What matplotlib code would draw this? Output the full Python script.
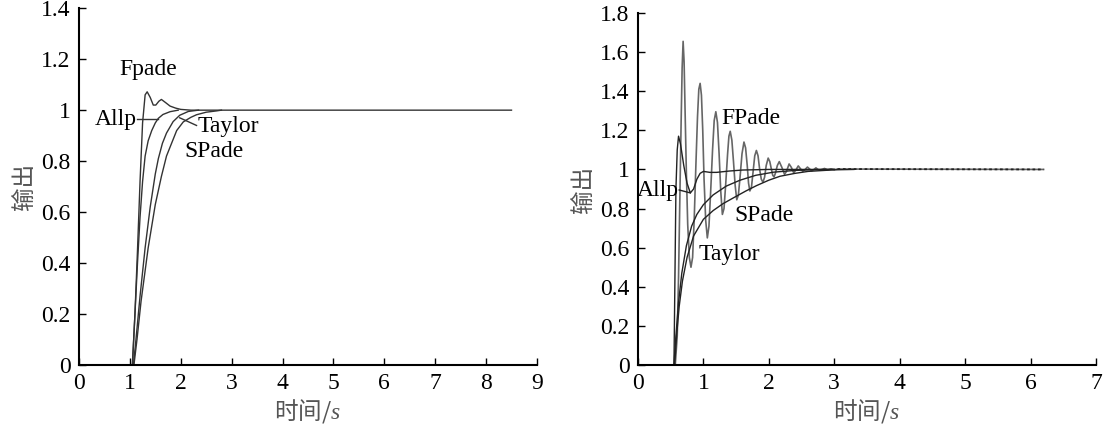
import matplotlib.pyplot as plt

plt.rcParams['font.family'] = ['Liberation Serif', 'DejaVu Serif']
plt.rcParams['mathtext.fontset'] = 'custom'
plt.rcParams['mathtext.it'] = 'Liberation Serif:italic'
plt.rcParams['mathtext.rm'] = 'Liberation Serif'

cjk = ['Noto Sans CJK SC', 'DejaVu Sans']

# left panel: step responses
fpade_t = [0, 1.05, 1.1, 1.15, 1.2, 1.25, 1.3, 1.34, 1.4, 1.46, 1.51, 1.57, 1.62, 1.7, 1.79, 1.9, 2.0, 2.2, 8.5]
fpade_y = [0, 0, 0.2, 0.45, 0.72, 0.95, 1.06, 1.072, 1.05, 1.02, 1.02, 1.035, 1.042, 1.03, 1.016, 1.008, 1.003, 1.0, 1.0]

allp_t = [1.05, 1.1, 1.15, 1.2, 1.25, 1.3, 1.36, 1.43, 1.5, 1.56, 1.65, 1.79, 1.95]
allp_y = [0, 0.2, 0.4, 0.58, 0.72, 0.82, 0.88, 0.92, 0.95, 0.968, 0.983, 0.994, 1.0]

taylor_t = [1.07, 1.12, 1.2, 1.3, 1.4, 1.5, 1.56, 1.64, 1.72, 1.85, 1.98, 2.15, 2.35]
taylor_y = [0, 0.1, 0.27, 0.46, 0.62, 0.75, 0.81, 0.87, 0.91, 0.955, 0.98, 0.995, 1.0]

spade_t = [1.08, 1.14, 1.22, 1.36, 1.5, 1.62, 1.72, 1.8, 1.92, 2.05, 2.2, 2.31, 2.5, 2.7, 2.8]
spade_y = [0, 0.1, 0.25, 0.46, 0.63, 0.74, 0.82, 0.86, 0.92, 0.954, 0.972, 0.982, 0.992, 0.997, 1.0]

# right panel
r_fpade_t = [0, 0.57, 0.60, 0.62, 0.64, 0.66, 0.675, 0.69, 0.705, 0.72, 0.74, 0.76, 0.785, 0.81,
             0.835, 0.86, 0.885, 0.91, 0.93, 0.95, 0.97, 0.99, 1.01, 1.035, 1.06, 1.085, 1.11,
             1.14, 1.165, 1.19, 1.215, 1.24, 1.265, 1.29, 1.315, 1.34, 1.37, 1.39, 1.41, 1.435,
             1.46, 1.485, 1.51, 1.535, 1.56, 1.59, 1.62, 1.645, 1.67, 1.69, 1.71, 1.735, 1.76,
             1.785, 1.81, 1.835, 1.86, 1.885, 1.91, 1.935, 1.96, 1.99, 2.015, 2.04, 2.06, 2.08,
             2.10, 2.13, 2.16, 2.2, 2.24, 2.27, 2.31, 2.345, 2.38, 2.415, 2.45, 2.485, 2.52,
             2.555, 2.59, 2.625, 2.655, 2.69, 2.72, 2.75, 2.78, 2.815, 2.85, 2.9, 2.95, 3.0,
             3.05, 6.2]
r_fpade_y = [0, 0, 0.15, 0.45, 0.85, 1.25, 1.52, 1.655, 1.55, 1.3, 0.98, 0.72, 0.55, 0.5,
             0.55, 0.75, 1.02, 1.27, 1.41, 1.44, 1.38, 1.2, 0.95, 0.74, 0.65, 0.71, 0.88,
             1.1, 1.25, 1.295, 1.24, 1.08, 0.89, 0.77, 0.8, 0.92, 1.08, 1.17, 1.195, 1.15,
             1.04, 0.92, 0.845, 0.87, 0.96, 1.08, 1.14, 1.11, 1.02, 0.93, 0.89, 0.91, 0.99,
             1.07, 1.097, 1.07, 1.0, 0.95, 0.935, 0.96, 1.02, 1.058, 1.04, 1.0, 0.97, 0.962,
             0.98, 1.02, 1.04, 1.01, 0.975, 0.99, 1.028, 1.01, 0.983, 0.998, 1.018, 1.003, 0.99,
             1.0, 1.012, 1.002, 0.993, 1.0, 1.008, 1.0, 0.996, 1.0, 1.005, 0.998, 1.003, 0.999,
             1.002, 1.0]

r_allp_t = [0.55, 0.56, 0.57, 0.58, 0.6, 0.62, 0.65, 0.7, 0.75, 0.8, 0.85, 0.9, 0.95, 1.0, 1.1, 1.2, 1.4, 1.6, 2.0, 3.0]
r_allp_y = [0, 0.3, 0.6, 0.9, 1.1, 1.17, 1.13, 1.02, 0.93, 0.88, 0.9, 0.95, 0.98, 0.99, 0.985, 0.985, 0.992, 0.997, 1.0, 1.0]

r_taylor_t = [0.55, 0.58, 0.62, 0.67, 0.74, 0.82, 0.9, 1.0, 1.15, 1.35, 1.56, 1.8, 2.07, 2.4, 2.8, 3.0]
r_taylor_y = [0, 0.15, 0.32, 0.47, 0.61, 0.71, 0.77, 0.82, 0.87, 0.915, 0.945, 0.97, 0.986, 0.995, 1.0, 1.0]

r_spade_t = [0.56, 0.59, 0.63, 0.68, 0.75, 0.85, 1.0, 1.15, 1.3, 1.46, 1.65, 1.81, 2.0, 2.17, 2.4, 2.6, 3.0, 3.3]
r_spade_y = [0, 0.15, 0.3, 0.43, 0.55, 0.66, 0.745, 0.79, 0.825, 0.855, 0.89, 0.917, 0.945, 0.965, 0.98, 0.99, 0.998, 1.0]

fig = plt.figure(figsize=(11.03, 4.32), dpi=100)
ax1 = fig.add_axes([0.0716, 0.155, 0.4152, 0.826])
ax2 = fig.add_axes([0.5784, 0.155, 0.4152, 0.815])

for ax in (ax1, ax2):
    for s in ('top', 'right'):
        ax.spines[s].set_visible(False)
    for s in ('left', 'bottom'):
        ax.spines[s].set_linewidth(1.5)
    ax.tick_params(direction='in', length=5, width=1, labelsize=17, pad=6)
    ax.set_ylabel('输出', family=cjk, fontsize=17, color='#555555', labelpad=4)
    ax.set_xlabel('时间/$s$', family=cjk, fontsize=17, color='#555555', labelpad=2)

ax1.plot(fpade_t, fpade_y, color='#333333', lw=1.0)
ax1.plot(allp_t, allp_y, color='#333333', lw=1.0)
ax1.plot(taylor_t, taylor_y, color='#333333', lw=1.0)
ax1.plot(spade_t, spade_y, color='#333333', lw=1.0)
ax1.set_xlim(0, 9)
ax1.set_ylim(0, 1.4)
ax1.set_xticks(range(10))
ax1.set_yticks([0, 0.2, 0.4, 0.6, 0.8, 1, 1.2, 1.4])
ax1.set_yticklabels(['0', '0.2', '0.4', '0.6', '0.8', '1', '1.2', '1.4'])

ax1.text(1.36, 1.12, 'Fpade', fontsize=17, ha='center', va='bottom')
ax1.text(1.13, 0.965, 'Allp', fontsize=17, ha='right', va='center')
ax1.plot([1.14, 1.56], [0.965, 0.965], color='#333333', lw=1.0)
ax1.text(2.34, 0.935, 'Taylor', fontsize=17, ha='left', va='center')
ax1.plot([2.31, 1.98], [0.94, 0.97], color='#333333', lw=1.0)
ax1.text(2.08, 0.836, 'SPade', fontsize=17, ha='left', va='center')

ax2.plot(r_fpade_t, r_fpade_y, color='#666666', lw=1.2)
# the long tail shows a fine ripple; a dotted overlay stands in for it
ax2.plot(r_fpade_t[-2:], r_fpade_y[-2:], color='#222222', lw=1.3, ls=(0, (1.5, 1.5)))
ax2.plot(r_allp_t, r_allp_y, color='#222222', lw=1.0)
ax2.plot(r_taylor_t, r_taylor_y, color='#222222', lw=1.0)
ax2.plot(r_spade_t, r_spade_y, color='#222222', lw=1.0)
ax2.set_xlim(0, 7)
ax2.set_ylim(0, 1.8)
ax2.set_xticks(range(8))
ax2.set_yticks([0, 0.2, 0.4, 0.6, 0.8, 1, 1.2, 1.4, 1.6, 1.8])
ax2.set_yticklabels(['0', '0.2', '0.4', '0.6', '0.8', '1', '1.2', '1.4', '1.6', '1.8'])

ax2.text(1.28, 1.26, 'FPade', fontsize=17, ha='left', va='center')
ax2.text(0.63, 0.89, 'Allp', fontsize=17, ha='right', va='center')
ax2.plot([0.63, 0.8], [0.895, 0.88], color='#222222', lw=1.0)
ax2.text(0.92, 0.566, 'Taylor', fontsize=17, ha='left', va='center')
ax2.text(1.48, 0.763, 'SPade', fontsize=17, ha='left', va='center')

fig.savefig('out.png', dpi=100)
